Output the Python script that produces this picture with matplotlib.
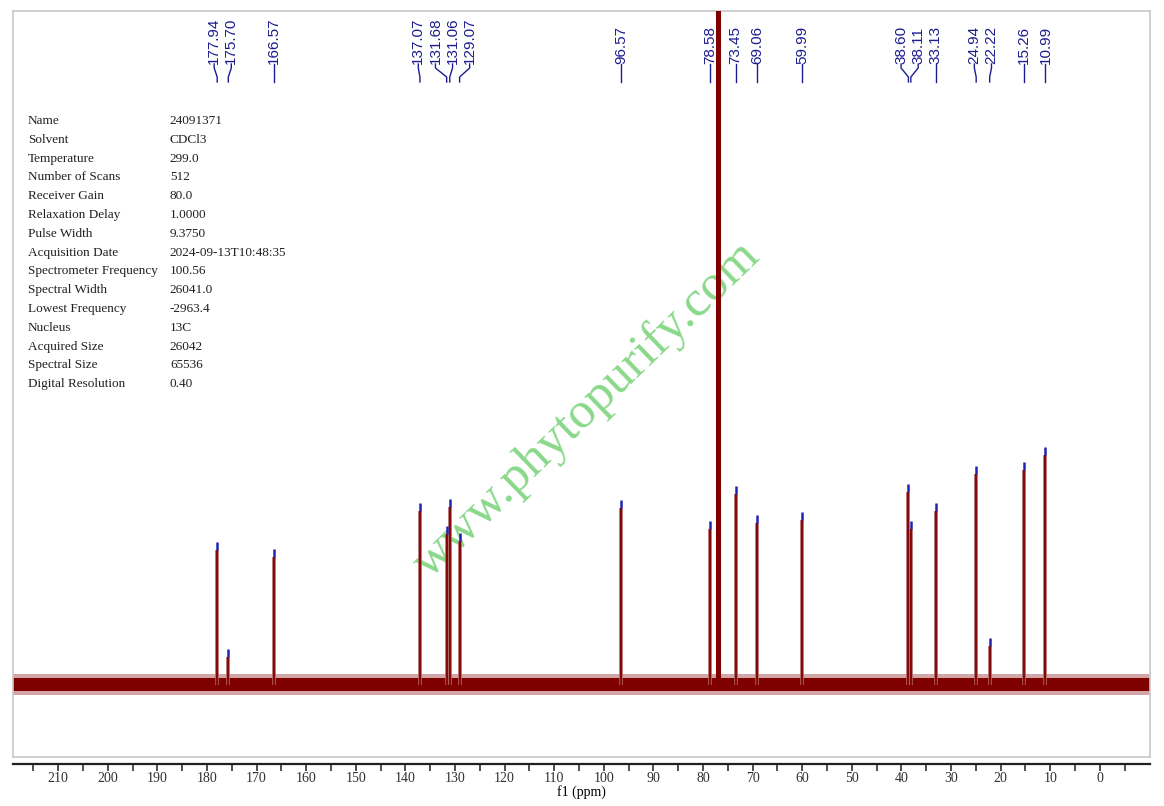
import matplotlib
matplotlib.use("Agg")
import matplotlib.pyplot as plt
import matplotlib.transforms as mtransforms
import numpy as np

# peak list (ppm) and heights (arbitrary units above baseline)
peak_ppm = [177.94, 175.70, 166.57, 137.07, 131.68, 131.06, 129.07, 96.57,
            78.58, 73.45, 69.06, 59.99, 38.60, 38.11, 33.13, 24.94, 22.22,
            15.26, 10.99]
peak_height = [135, 28, 128, 174, 151, 178, 144, 177,
               156, 191, 162, 165, 193, 156, 174, 211, 39,
               215, 230]
peak_labels = ["177.94", "175.70", "166.57", "137.07", "131.68", "131.06",
               "129.07", "96.57", "78.58", "73.45", "69.06", "59.99", "38.60",
               "38.11", "33.13", "24.94", "22.22", "15.26", "10.99"]

# CDCl3 triplet, off scale
solvent_ppm = [77.16, 77.00, 76.84]
solvent_height = [3000, 3000, 3000]

noise_core = 6.5
noise_edge = 10.5

param_names = ["Name", "Solvent", "Temperature", "Number of Scans", "Receiver Gain",
               "Relaxation Delay", "Pulse Width", "Acquisition Date",
               "Spectrometer Frequency", "Spectral Width", "Lowest Frequency",
               "Nucleus", "Acquired Size", "Spectral Size", "Digital Resolution"]
param_values = ["24091371", "CDCl3", "299.0", "512", "80.0", "1.0000", "9.3750",
                "2024-09-13T10:48:35", "100.56", "26041.0", "-2963.4", "13C",
                "26042", "65536", "0.40"]

x_major = np.arange(0, 211, 10)
x_minor = np.arange(-5, 216, 5)

W, H = 1164, 806
fig = plt.figure(figsize=(W / 100, H / 100), dpi=100)
ax = fig.add_axes([13 / W, 1 - 757 / H, 1137 / W, 746 / H])
ax.set_xlim(219.1, -10.1)
ax.set_ylim(-72.5, 673.5)
for s in ax.spines.values():
    s.set_color("#c8c8c8")
    s.set_linewidth(1.2)
ax.set_xticks([])
ax.set_yticks([])

red = "#800000"
blue_tick = "#2323b4"
label_col = "#1c1c90"

# watermark
ax.text(0.505, 0.466, "www.phytopurify.com", transform=ax.transAxes,
        rotation=44, ha="center", va="center", fontsize=37,
        family="Liberation Serif", color="#8ad88a", zorder=1)

# baseline noise band
ax.fill_between([219.1, -10.1], -noise_edge, noise_edge, color=red, alpha=0.35,
                linewidth=0, zorder=2)
ax.fill_between([219.1, -10.1], -noise_core, noise_core, color=red,
                linewidth=0, zorder=2)

# peaks
ax.vlines(peak_ppm, 0, peak_height, color="#b06060", linewidth=2.6, zorder=3)
ax.vlines(peak_ppm, 0, peak_height, color=red, linewidth=1.3, zorder=3)
ax.vlines(solvent_ppm, 0, solvent_height, color=red, linewidth=2.2, zorder=3)
ax.vlines(peak_ppm, np.array(peak_height), np.array(peak_height) + 8,
          color=blue_tick, linewidth=1.8, zorder=4)

# peak labels spread apart so they don't overlap
sep = 3.45
pos = list(peak_ppm)
for _ in range(300):
    for i in range(len(pos) - 1):
        d = pos[i] - pos[i + 1]
        if d < sep:
            shift = (sep - d) / 2
            pos[i] += shift
            pos[i + 1] -= shift

trans = mtransforms.blended_transform_factory(ax.transData, ax.transAxes)
y_txt = (757 - 64) / 746
y_a = (757 - 68) / 746
y_b = (757 - 77) / 746
y_c = (757 - 82) / 746
for lab, p, x in zip(peak_labels, pos, peak_ppm):
    ax.text(p, y_txt, lab, transform=trans, rotation=90, ha="center",
            va="bottom", fontsize=11, family="Liberation Sans", color=label_col)
    ax.plot([p, p, x, x], [y_txt, y_a, y_b, y_c], transform=trans,
            color=label_col, linewidth=1.0, clip_on=False)

# acquisition parameters
y0 = (757 - 121) / 746
dy = 18.8 / 746
for i, (n, v) in enumerate(zip(param_names, param_values)):
    ax.text(0.0132, y0 - i * dy, n, transform=ax.transAxes, va="center",
            fontsize=9.5, family="Liberation Serif", color="#202020")
    ax.text(0.138, y0 - i * dy, v, transform=ax.transAxes, va="center",
            fontsize=9.5, family="Liberation Serif", color="#202020")

# ppm scale below the frame
sec = ax.secondary_xaxis(-(764 - 757) / 746)
sec.set_xticks(x_major)
sec.set_xticks(x_minor, minor=True)
sec.tick_params(which="both", direction="out", length=5, width=1.2, colors="#303030",
                labelsize=10, pad=1)
sec.tick_params(which="minor", labelbottom=False)
for lbl in sec.get_xticklabels():
    lbl.set_family("Liberation Serif")
sec.spines["bottom"].set_linewidth(1.6)
sec.spines["bottom"].set_color("#202020")
sec.set_xlabel("f1 (ppm)", family="Liberation Serif", fontsize=10, labelpad=0)

fig.savefig("out.png", dpi=100)
